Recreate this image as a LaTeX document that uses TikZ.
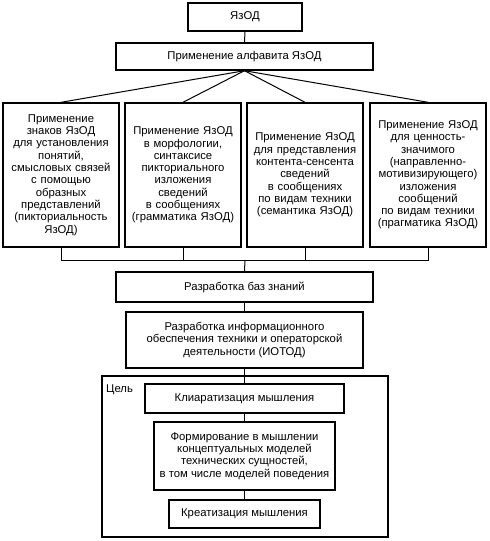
\documentclass[tikz,border=0pt]{standalone}
\usepackage{fontspec}
\setmainfont{Liberation Sans}
\usetikzlibrary{positioning}

\begin{document}
\begin{tikzpicture}[x=1pt, y=-1pt,
      blk/.style={draw, line width=1.4pt, align=center, inner sep=2pt, font=\fontsize{11.3}{12.3}\selectfont},
      col/.style={blk, minimum width=116pt, minimum height=144pt, text width=112pt},
      link/.style={line width=1pt}
    ]
      \useasboundingbox (0,0) rectangle (490,541);

      % top
      \node[blk, minimum width=114pt, minimum height=28pt] (yazod) at (245,17) {ЯзОД};
      \node[blk, minimum width=257pt, minimum height=27pt] (alf) at (244.5,56.5) {Применение алфавита ЯзОД};

      % four columns
      \node[col] (pik) at (61,175) {Применение\\знаков ЯзОД\\для установления\\понятий,\\смысловых связей\\с помощью\\образных\\представлений\\(пикториальность\\ЯзОД)};
      \node[col] (gram) at (183,175) {Применение ЯзОД\\в морфологии,\\синтаксисе\\пикториального\\изложения\\сведений\\в сообщениях\\(грамматика ЯзОД)};
      \node[col] (sem) at (305,175) {Применение ЯзОД\\для представления\\контента-сенсента\\сведений\\в сообщениях\\по видам техники\\(семантика ЯзОД)};
      \node[col] (prag) at (428,175) {Применение ЯзОД\\для ценность-\\значимого\\(направленно-\\мотивизирующего)\\изложения\\сообщений\\по видам техники\\(прагматика ЯзОД)};

      % development
      \node[blk, minimum width=257pt, minimum height=30pt] (baz) at (244.5,287) {Разработка баз знаний};
      \node[blk, minimum width=237pt, minimum height=56pt] (iotod) at (244.5,340) {Разработка информационного\\обеспечения техники и операторской\\деятельности (ИОТОД)};

      % goal
      \node[draw, line width=1.1pt, minimum width=286pt, minimum height=161pt, inner sep=0pt] (tsel) at (245,456.5) {};
      \node[anchor=base west, inner sep=0pt, font=\fontsize{11.3}{12}\selectfont] (tsellbl) at (106,392) {Цель};
      \node[blk, minimum width=199pt, minimum height=29pt] (klia) at (244.5,398.5) {Клиаратизация мышления};
      \node[blk, minimum width=181pt, minimum height=68pt] (form) at (244.5,456) {Формирование в мышлении\\концептуальных моделей\\технических сущностей,\\в том числе моделей поведения};
      \node[blk, minimum width=151pt, minimum height=28pt] (kreat) at (244.5,514) {Креатизация мышления};

      % connectors
      \draw[link] (yazod) -- (alf);
      \foreach \c in {pik,gram,sem,prag}
        \draw[link] (alf.south) -- (\c.north);
      \coordinate (bus) at (245,260);
      \foreach \c in {pik,gram,sem,prag}
        \draw[link] (\c.south) |- (bus);
      \draw[link] (bus) -- (baz.north);
      \draw[link] (baz) -- (iotod);
      \draw[link] (iotod.south) -- (iotod.south |- tsel.north);
      \draw[link] (klia.north |- tsel.north) -- (klia.north);
      \draw[link] (klia) -- (form);
      \draw[link] (form) -- (kreat);
    \end{tikzpicture}
\end{document}
